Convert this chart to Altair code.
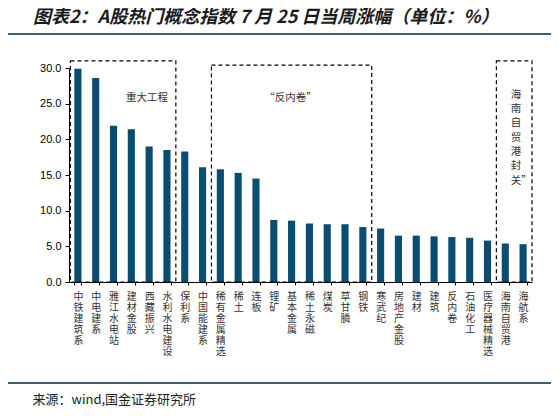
import altair as alt
import pandas as pd

# weekly change of hot concept indices, week of 25 July (%)
names = ["中铁建筑系", "中电建系", "雅江水电站", "建材金股", "西藏振兴", "水利水电建设",
         "保利系", "中国能建系", "稀有金属精选", "稀土", "连板", "锂矿", "基本金属",
         "稀土永磁", "煤炭", "草甘膦", "钢铁", "寒武纪", "房地产金股", "建材", "建筑",
         "反内卷", "石油化工", "医疗器械精选", "海南自贸港", "海航系"]
values = [29.9, 28.6, 21.9, 21.4, 19.0, 18.5, 18.3, 16.1, 15.8, 15.3, 14.5, 8.7, 8.6,
          8.2, 8.1, 8.1, 7.7, 7.5, 6.5, 6.5, 6.4, 6.3, 6.2, 5.8, 5.4, 5.3]

# dashed group boxes, in bar-slot units (0..26) and y values
box_x0 = [0.08, 8.0, 24.0]
box_x1 = [6.0, 17.0, 26.0]
box_top = [31.0, 30.4, 31.0]

note_text = ["重大工程", "“反内卷”"]
note_x = [4.38, 12.44]
note_y = [25.8, 25.8]

side_note = "海\n南\n自\n贸\n港\n封\n关”"
side_x = 24.8
side_y = 26.95

title_text = "图表2：A股热门概念指数 7 月 25 日当周涨幅（单位：%）"
source_text = "来源：wind,国金证券研究所"

CJK = "Noto Sans CJK SC"
BAR = "#0a4d71"
LINE = "#2f6284"

bars_df = pd.DataFrame({"name": names, "value": values})
box_df = pd.DataFrame({"x0": box_x0, "x1": box_x1, "y0": [0] * 3, "top": box_top})
note_df = pd.DataFrame({"t": note_text, "x": note_x, "y": note_y})
side_df = pd.DataFrame({"t": [side_note], "x": [side_x], "y": [side_y]})
one = pd.DataFrame({"t": [source_text]})

yscale = alt.Scale(domain=[0, 30], nice=False)
yaxis = alt.Axis(values=[0, 5, 10, 15, 20, 25, 30], format=".1f", grid=False,
                 labelFont="Liberation Sans", labelFontSize=11,
                 labelColor="black", domainColor="black",
                 tickColor="black", tickSize=4, labelPadding=4)
xq = alt.Scale(domain=[0, 26], nice=False, zero=False)

bars = alt.Chart(bars_df).mark_bar(color=BAR).encode(
    x=alt.X("name:N", sort=names, title=None,
            scale=alt.Scale(paddingInner=0.6, paddingOuter=0.3),
            axis=alt.Axis(labelAngle=0, labelExpr="split(datum.label, '')",
                          labelBaseline="top", labelAlign="center",
                          labelFont=CJK, labelFontSize=10, labelLineHeight=11,
                          labelColor="#333333", labelOverlap=False, labelPadding=6,
                          domainColor="black", tickColor="black", tickSize=3,
                          tickBand="extent")),
    y=alt.Y("value:Q", scale=yscale, title=None, axis=yaxis),
)

boxes = alt.Chart(box_df).mark_rect(fillOpacity=0, stroke="black", strokeWidth=1.2,
                                     strokeDash=[4, 3]).encode(
    x=alt.X("x0:Q", scale=xq, axis=None),
    x2="x1",
    y=alt.Y("y0:Q", scale=yscale, title=None, axis=yaxis),
    y2="top",
)

notes = alt.Chart(note_df).mark_text(font=CJK, fontSize=10.5, color="#333333",
                                     align="center", baseline="middle").encode(
    x=alt.X("x:Q", scale=xq, axis=None),
    y=alt.Y("y:Q", scale=yscale, title=None, axis=yaxis),
    text="t:N",
)

side = alt.Chart(side_df).mark_text(font=CJK, fontSize=10.5, color="#333333",
                                    align="left", baseline="top", lineBreak="\n",
                                    lineHeight=14.3).encode(
    x=alt.X("x:Q", scale=xq, axis=None),
    y=alt.Y("y:Q", scale=yscale, title=None, axis=yaxis),
    text="t:N",
)

top_line = alt.Chart(one).mark_rule(color=LINE, strokeWidth=2).encode(
    x=alt.value(-64), x2=alt.value(484), y=alt.value(-34))
bottom_line = alt.Chart(one).mark_rule(color=LINE, strokeWidth=2).encode(
    x=alt.value(-64), x2=alt.value(484), y=alt.value(315))
source = alt.Chart(one).mark_text(font=CJK, fontSize=13, color="#222222",
                                  align="left", baseline="middle").encode(
    x=alt.value(-36.5), y=alt.value(332), text="t:N")

chart = alt.layer(bars, boxes, notes, side, top_line, bottom_line, source).resolve_scale(
    x="independent"
).properties(
    width=463,
    height=214,
    padding={"left": 61, "top": 60, "right": 19, "bottom": 126},
    autosize=alt.AutoSizeParams(type="none"),
    title=alt.Title(title_text, anchor="start", frame="group", dx=-36, offset=6,
                    font=CJK, fontSize=18, fontStyle="italic", fontWeight="bold",
                    color="#1a1a1a"),
).configure_view(stroke=None)

chart.save("out.html", embed_options={"renderer": "svg", "actions": False})
